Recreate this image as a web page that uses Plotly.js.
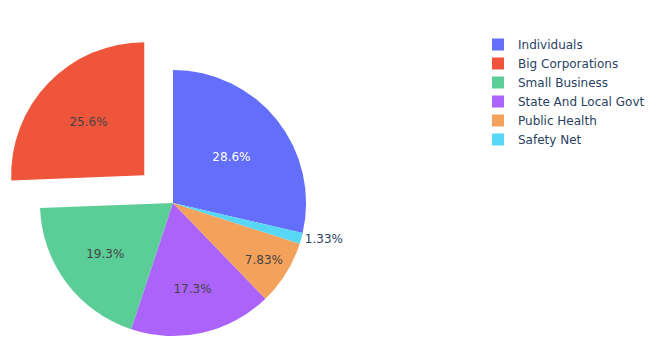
<!DOCTYPE html>
<html>
<head>
<meta charset="utf-8">
<script src="https://cdn.plot.ly/plotly-3.0.1.min.js"></script>
<style>
  html, body { margin: 0; padding: 0; overflow: hidden; background: #fff; }
  #chart { width: 668px; height: 400px; }
</style>
</head>
<body>
<div id="chart"></div>
<script>
const labels = ["Individuals", "Big Corporations", "Small Business", "State And Local Govt", "Public Health", "Safety Net"];
const values = [28.6, 25.6, 19.3, 17.3, 7.83, 1.33];
const pulls = [0, 0.3, 0, 0, 0, 0];
const colors = ["#636efa", "#EF553B", "#5bce98", "#ab63fa", "#f4a25b", "#58d6f5"];

const trace = {
  type: "pie",
  labels: labels,
  values: values,
  pull: pulls,
  sort: false,
  direction: "counterclockwise",
  textinfo: "percent",
  marker: { colors: colors, line: { width: 0 } },
  domain: { x: [0, 346 / 668], y: [0, 1] }
};

const layout = {
  width: 668,
  height: 400,
  margin: { l: 0, r: 0, t: 30, b: 24 },
  paper_bgcolor: "#fff",
  plot_bgcolor: "#fff",
  font: { family: '"DejaVu Sans", Verdana, sans-serif', size: 12, color: "#2a3f5f" },
  showlegend: true,
  legend: { x: 478 / 668, xanchor: "left", y: 1, yanchor: "top", font: { color: "#2a3f5f" } }
};

Plotly.newPlot("chart", [trace], layout, { displayModeBar: false, staticPlot: true });
</script>
</body>
</html>
